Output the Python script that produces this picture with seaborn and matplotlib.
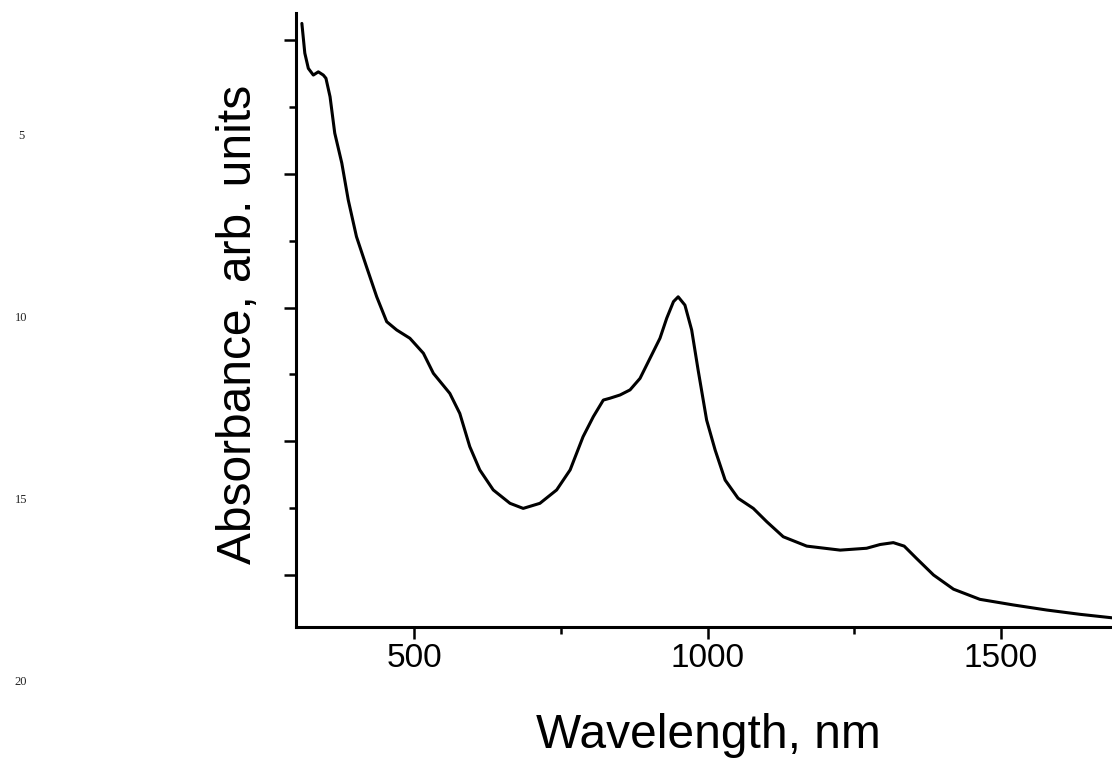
import numpy as np
import pandas as pd
import matplotlib.pyplot as plt
import seaborn as sns
from matplotlib.ticker import MultipleLocator, NullFormatter

# Absorption spectrum (wavelength in nm, arb. units)
wavelength = [309, 314, 320, 328.5, 337, 345.5, 350, 357, 365, 377, 388, 402, 419,
              436.5, 453.5, 470.5, 493, 516, 533, 561, 578, 595, 612, 635, 663.5,
              686, 714.5, 743, 766, 788, 805.5, 822.5, 834, 851, 868, 885, 902,
              919, 930.5, 942, 950, 961.5, 973, 984, 998.5, 1013, 1030, 1052,
              1078, 1101, 1129, 1169, 1226, 1271, 1294, 1316.5, 1335, 1356, 1385,
              1419, 1464, 1521, 1578, 1634.5, 1689, 1700]
absorbance = [2.562, 2.451, 2.394, 2.369, 2.381, 2.369, 2.357, 2.288, 2.152, 2.040,
              1.902, 1.765, 1.653, 1.540, 1.447, 1.416, 1.385, 1.329, 1.254, 1.179,
              1.104, 0.980, 0.893, 0.818, 0.768, 0.749, 0.768, 0.818, 0.893, 1.017,
              1.092, 1.154, 1.161, 1.173, 1.192, 1.235, 1.310, 1.385, 1.460, 1.522,
              1.540, 1.509, 1.416, 1.266, 1.079, 0.967, 0.855, 0.787, 0.749, 0.699,
              0.643, 0.608, 0.593, 0.600, 0.614, 0.621, 0.608, 0.562, 0.500, 0.447,
              0.409, 0.388, 0.369, 0.353, 0.340, 0.337]

# page line numbers printed in the left margin
line_numbers = ['5', '10', '15', '20']
line_number_y = [136, 318, 500, 682]

sns.set_style('ticks')
plt.rcParams['font.family'] = ['Liberation Sans', 'DejaVu Sans']
plt.rcParams['text.color'] = 'black'

fig = plt.figure(figsize=(11.12, 7.58), dpi=100)
ax = fig.add_axes([296 / 1112, 1 - 627 / 758, 816 / 1112, 614 / 758])

df = pd.DataFrame({'wavelength': wavelength, 'absorbance': absorbance})
sns.lineplot(data=df, x='wavelength', y='absorbance', color='black',
             linewidth=2.2, ax=ax)

ax.set_xlim(299, 1689)
ax.set_ylim(0.3056, 2.601)

ax.xaxis.set_major_locator(MultipleLocator(500))
ax.xaxis.set_minor_locator(MultipleLocator(250))
ax.yaxis.set_major_locator(MultipleLocator(0.5))
ax.yaxis.set_minor_locator(MultipleLocator(0.25))
ax.yaxis.set_major_formatter(NullFormatter())

ax.tick_params(which='major', length=8.6, width=1.8, direction='out',
               colors='black', labelcolor='black', labelsize=24, pad=3)
ax.tick_params(which='minor', length=5, width=1.8, direction='out', colors='black')

sns.despine(ax=ax)
for side in ['left', 'bottom']:
    ax.spines[side].set_linewidth(2.2)
    ax.spines[side].set_color('black')

ax.set_xlabel('Wavelength, nm', fontsize=34.5, color='black')
ax.set_ylabel('Absorbance, arb. units', fontsize=34.5, color='black')
ax.xaxis.set_label_coords((708 - 296) / 816, (627 - 713) / 614)
ax.yaxis.set_label_coords((261 - 296) / 816, (627 - 324) / 614)

for txt, ypx in zip(line_numbers, line_number_y):
    fig.text(21 / 1112, 1 - ypx / 758, txt, ha='center', va='center',
             fontsize=9, family=['Liberation Serif', 'DejaVu Serif'], color='#222222')

plt.savefig('out.png', dpi=100)
plt.close()
